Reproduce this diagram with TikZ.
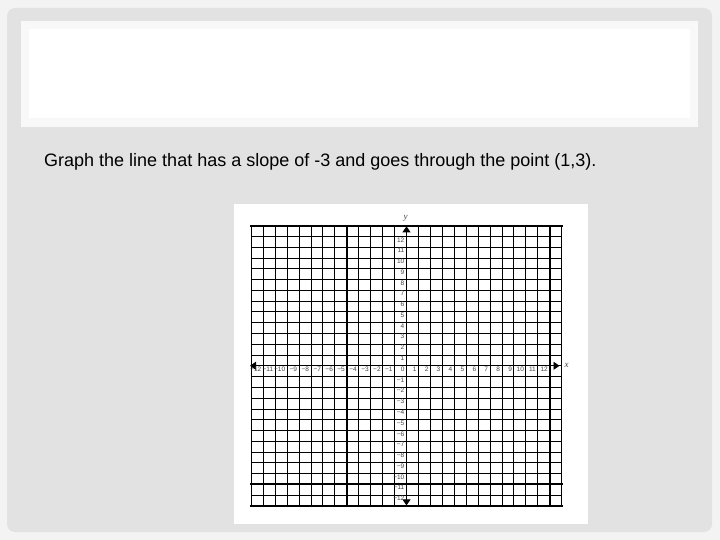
\documentclass[tikz,border=0pt]{standalone}
\usepackage{fontspec}
\setmainfont{Liberation Sans}
\newfontfamily\axisfont{Liberation Serif}
\usetikzlibrary{arrows.meta}
\definecolor{bgout}{HTML}{F3F3F3}
\definecolor{panelgray}{HTML}{E2E2E2}
\definecolor{framegray}{HTML}{F8F8F8}
\definecolor{lblgray}{HTML}{444444}
\begin{document}
\begin{tikzpicture}[x=1bp,y=-1bp,
  gridline/.style={line width=0.9bp,line cap=rect,black},
  thickline/.style={line width=2bp,line cap=rect,black},
  axisline/.style={line width=0.9bp,black},
  tip/.style={-{Triangle[width=8bp,length=6bp]}},
  numlbl/.style={anchor=east,inner sep=0,text=lblgray,font=\fontsize{6.5bp}{7bp}\selectfont},
  axislbl/.style={inner sep=0,text=lblgray,font=\axisfont\itshape\fontsize{9bp}{10bp}\selectfont}]
\useasboundingbox (0,0) rectangle (720,540);
\fill[bgout] (0,0) rectangle (720,540);
\fill[panelgray,rounded corners=8bp] (7,8) rectangle (712,532);
\fill[framegray] (21,21) rectangle (698,127);
\fill[white] (29,29) rectangle (690,118);
\node[anchor=base west,inner sep=0,font=\fontsize{18bp}{21bp}\selectfont] (prompt) at (44,166.5)
  {Graph the line that has a slope of -3 and goes through the point (1,3).};
% graph card
\fill[white] (234,204) rectangle (588,524);
\def\gx{251.3}\def\gy{225.7}\def\dx{11.938}\def\dy{10.78}
\foreach \i in {0,...,26} \draw[gridline] ({\gx+\i*\dx},\gy) -- ({\gx+\i*\dx},506);
\foreach \j in {0,...,26} \draw[gridline] (\gx,{\gy+\j*\dy}) -- (561.7,{\gy+\j*\dy});
\foreach \i in {8,25} \draw[thickline] ({\gx+\i*\dx},\gy) -- ({\gx+\i*\dx},506);
\foreach \j in {0,24,26} \draw[thickline] (\gx,{\gy+\j*\dy}) -- (561.7,{\gy+\j*\dy});
% axes
\coordinate (O) at (406.5,365.8);
\coordinate (ytop) at (406.5,226.3);
\coordinate (ybot) at (406.5,505.4);
\coordinate (xleft) at (250,365.8);
\coordinate (xright) at (559.5,365.8);
\draw[axisline,tip] (O) -- (ytop);
\draw[axisline,tip] (O) -- (ybot);
\draw[axisline,tip] (O) -- (xleft);
\draw[axisline,tip] (O) -- (xright);
\node[axislbl] (ylab) at (405.7,218.5) {y};
\node[axislbl] (xlab) at (566.5,365) {x};
% labels
\foreach \i in {-12,...,12}
  \node[numlbl] at ({406.5+\i*\dx-1.8},369.3) {\ifnum\i<0 −\number-\i\else\i\fi};
\foreach \j in {-12,...,-1,1,2,...,12}
  \node[numlbl] at (404.5,{365.8-\j*\dy+3.3}) {\ifnum\j<0 −\number-\j\else\j\fi};
\end{tikzpicture}
\end{document}
